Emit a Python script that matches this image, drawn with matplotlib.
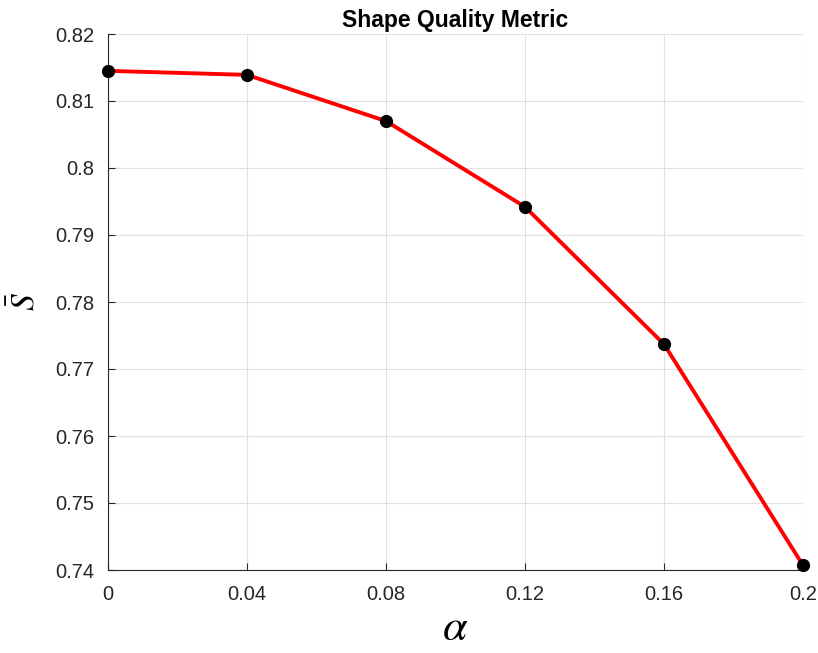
import matplotlib
matplotlib.use("Agg")
import matplotlib.pyplot as plt

alpha = [0.0, 0.04, 0.08, 0.12, 0.16, 0.2]
s_bar = [0.8145, 0.8139, 0.8070, 0.7942, 0.7737, 0.7407]
xticks = [0, 0.04, 0.08, 0.12, 0.16, 0.2]
xticklabels = ["0", "0.04", "0.08", "0.12", "0.16", "0.2"]
yticks = [0.74, 0.75, 0.76, 0.77, 0.78, 0.79, 0.80, 0.81, 0.82]
yticklabels = ["0.74", "0.75", "0.76", "0.77", "0.78", "0.79", "0.8", "0.81", "0.82"]

plt.rcParams['font.family'] = ['Liberation Sans', 'DejaVu Sans']
plt.rcParams['mathtext.fontset'] = 'stix'

fig = plt.figure(figsize=(8.18, 6.53), dpi=100)
ax = fig.add_axes([108/818, 83/653, (803-108)/818, (570-34)/653])

ax.plot(alpha, s_bar, color='red', lw=2.8, zorder=3, clip_on=False)
ax.plot(alpha, s_bar, 'o', color='black', markersize=8.5, zorder=4, clip_on=False)

ax.set_xlim(0, 0.2)
ax.set_ylim(0.74, 0.82)
ax.set_xticks(xticks)
ax.set_xticklabels(xticklabels)
ax.set_yticks(yticks)
ax.set_yticklabels(yticklabels)
ax.grid(True, color='#e0e0e0', lw=0.8)
ax.set_axisbelow(True)
for side in ['top', 'right']:
    ax.spines[side].set_visible(False)
for side in ['left', 'bottom']:
    ax.spines[side].set_color('#262626')
    ax.spines[side].set_linewidth(0.8)
ax.tick_params(direction='in', length=5, width=0.8, colors='#262626', labelsize=14.5)
ax.tick_params(axis='x', pad=11)
ax.tick_params(axis='y', pad=10)

ax.set_title('Shape Quality Metric', fontsize=16.5, fontweight='bold', pad=5)
ax.set_xlabel(r'$\alpha$', fontsize=32, labelpad=3)
ax.set_ylabel(r'$\bar{S}$', fontsize=24, labelpad=10)

fig.savefig('out.png', dpi=100)
